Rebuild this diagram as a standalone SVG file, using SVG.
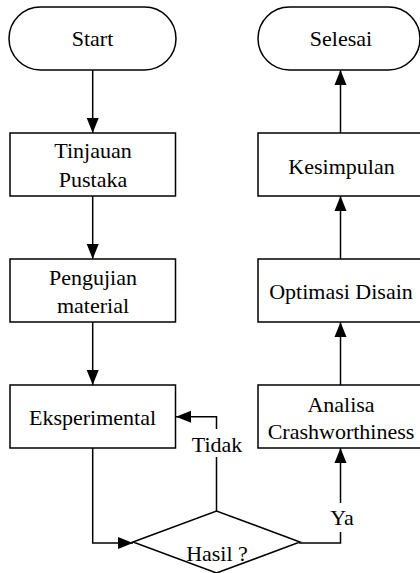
<svg xmlns="http://www.w3.org/2000/svg" width="420" height="573" viewBox="0 0 420 573">
<style>
.shape{fill:#fff;stroke:#000;stroke-width:1.5}
.conn{fill:none;stroke:#000;stroke-width:1.5}
text{font-family:"Liberation Serif","Times New Roman",serif;font-size:22px;fill:#000;text-anchor:middle}
.bg{fill:#fff;stroke:none}
</style>
<defs>
<marker id="arr" markerUnits="userSpaceOnUse" markerWidth="16" markerHeight="14" viewBox="0 0 16 14" refX="15" refY="7" orient="auto">
<path d="M0,1 L15,7 L0,13 Z" fill="#000"/>
</marker>
</defs>
<rect width="420" height="573" fill="#fff"/>
<g id="connectors">
<path class="conn" d="M92.7,70 V133" marker-end="url(#arr)"/>
<path class="conn" d="M92.7,196 V259" marker-end="url(#arr)"/>
<path class="conn" d="M92.7,322 V385" marker-end="url(#arr)"/>
<path class="conn" d="M92.7,448 V543 H133" marker-end="url(#arr)"/>
<path class="conn" d="M216.5,511 V416.7 H176" marker-end="url(#arr)"/>
<path class="conn" d="M299,543 H340.5 V448" marker-end="url(#arr)"/>
<path class="conn" d="M340.5,385 V322" marker-end="url(#arr)"/>
<path class="conn" d="M340.5,259 V196" marker-end="url(#arr)"/>
<path class="conn" d="M340.5,133 V70" marker-end="url(#arr)"/>
<rect class="bg" x="190" y="429" width="54" height="28"/>
<text x="217" y="452">Tidak</text>
<rect class="bg" x="328" y="503" width="29" height="29"/>
<text x="342" y="525">Ya</text>
</g>
<g id="start">
<rect class="shape" x="9" y="7" width="167" height="63" rx="31.5"/>
<text x="92.5" y="46">Start</text>
</g>
<g id="tinjauan">
<rect class="shape" x="10" y="133" width="165.5" height="63"/>
<text x="93" y="158">Tinjauan</text>
<text x="93" y="187">Pustaka</text>
</g>
<g id="pengujian">
<rect class="shape" x="10" y="259" width="165.5" height="63"/>
<text x="93" y="285">Pengujian</text>
<text x="93" y="313">material</text>
</g>
<g id="eksperimental">
<rect class="shape" x="10" y="385" width="165.5" height="63"/>
<text x="92.5" y="425">Eksperimental</text>
</g>
<g id="hasil">
<path class="shape" d="M133,542 L216.5,511 L300,542 L216.5,573 Z"/>
<text x="217" y="561">Hasil ?</text>
</g>
<g id="analisa">
<rect class="shape" x="258" y="385" width="165" height="63"/>
<text x="341" y="412">Analisa</text>
<text x="341" y="439">Crashworthiness</text>
</g>
<g id="optimasi">
<rect class="shape" x="258" y="259" width="165" height="63"/>
<text x="341" y="299">Optimasi Disain</text>
</g>
<g id="kesimpulan">
<rect class="shape" x="258" y="133" width="165" height="63"/>
<text x="341.5" y="174">Kesimpulan</text>
</g>
<g id="selesai">
<rect class="shape" x="258" y="7" width="162" height="63" rx="31.5"/>
<text x="341" y="46">Selesai</text>
</g>
</svg>
